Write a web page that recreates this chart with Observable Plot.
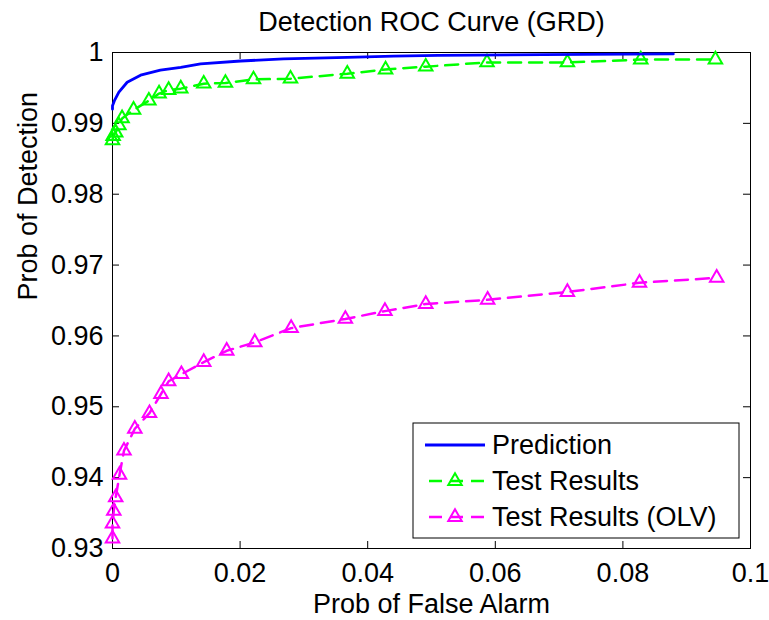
<!DOCTYPE html>
<html><head><meta charset="utf-8">
<script src="https://cdn.jsdelivr.net/npm/d3@7"></script>
<script src="https://cdn.jsdelivr.net/npm/@observablehq/plot@0.6"></script>
<style>
body{margin:0;background:#fff}
svg{font-family:"Liberation Sans",Arial,Helvetica,sans-serif}
</style>
</head><body><div id="chart"></div>
<script>
// Prediction curve (false alarm, detection)
const predFA = [0.0000, 0.0000, 0.0003, 0.0010, 0.0023, 0.0044, 0.0075, 0.0107, 0.0138, 0.0201, 0.0268, 0.0368, 0.0441, 0.0510, 0.0675, 0.0879];
const predPD = [0.9920, 0.9925, 0.9932, 0.9944, 0.9958, 0.9968, 0.9975, 0.9979, 0.9984, 0.9988, 0.9991, 0.9993, 0.9995, 0.9996, 0.9997, 0.9998];

// Test Results
const testFA = [0.0000, 0.0001, 0.0005, 0.0010, 0.0015, 0.0033, 0.0057, 0.0073, 0.0088, 0.0107, 0.0143, 0.0177, 0.0221, 0.0279, 0.0368, 0.0428, 0.0491, 0.0587, 0.0713, 0.0828, 0.0945];
const testPD = [0.9876, 0.9882, 0.9887, 0.9897, 0.9907, 0.9919, 0.9932, 0.9942, 0.9947, 0.9949, 0.9956, 0.9957, 0.9962, 0.9963, 0.9970, 0.9976, 0.9980, 0.9986, 0.9986, 0.9990, 0.9990];

// Test Results (OLV)
const olvFA = [0.0000, 0.0000, 0.0002, 0.0005, 0.0011, 0.0018, 0.0035, 0.0058, 0.0076, 0.0088, 0.0108, 0.0143, 0.0179, 0.0223, 0.0280, 0.0365, 0.0427, 0.0491, 0.0588, 0.0713, 0.0826, 0.0947];
const olvPD = [0.9314, 0.9335, 0.9353, 0.9372, 0.9404, 0.9438, 0.9469, 0.9491, 0.9518, 0.9536, 0.9546, 0.9563, 0.9579, 0.9591, 0.9611, 0.9624, 0.9635, 0.9645, 0.9651, 0.9662, 0.9675, 0.9682];

const xTicks = [0, 0.02, 0.04, 0.06, 0.08, 0.1];
const yTicks = [0.93, 0.94, 0.95, 0.96, 0.97, 0.98, 0.99, 1];
const seriesNames = ["Prediction", "Test Results", "Test Results (OLV)"];
const seriesColors = ["#0000ff", "#00ff00", "#ff00ff"];
const titleText = "Detection ROC Curve (GRD)";
const xLabel = "Prob of False Alarm";
const yLabel = "Prob of Detection";

const pred = predFA.map((x, i) => ({x, y: predPD[i]}));
const test = testFA.map((x, i) => ({x, y: testPD[i]}));
const olv = olvFA.map((x, i) => ({x, y: olvPD[i]}));

const W = 769, H = 620, mL = 112, mR = 19, mT = 52, mB = 72;
const frameW = W - mL - mR, frameH = H - mT - mB, tickLen = 7;
const dash = "13,8";
const fmt = d => String(d);

const chart = Plot.plot({
  width: W, height: H,
  marginLeft: mL, marginRight: mR, marginTop: mT, marginBottom: mB,
  style: {fontSize: "27px", fontFamily: '"Liberation Sans",Arial,sans-serif', background: "white", color: "black", overflow: "visible"},
  x: {domain: [0, 0.1], axis: null},
  y: {domain: [0.93, 1], axis: null},
  marks: [
    Plot.frame({stroke: "black", strokeWidth: 1}),
    // inward ticks on all four sides (MATLAB box style)
    Plot.tickX(xTicks, {x: d => d, insetTop: frameH - tickLen, stroke: "black", strokeWidth: 1}),
    Plot.tickX(xTicks, {x: d => d, insetBottom: frameH - tickLen, stroke: "black", strokeWidth: 1}),
    Plot.tickY(yTicks, {y: d => d, insetRight: frameW - tickLen, stroke: "black", strokeWidth: 1}),
    Plot.tickY(yTicks, {y: d => d, insetLeft: frameW - tickLen, stroke: "black", strokeWidth: 1}),
    Plot.axisX({ticks: xTicks, anchor: "bottom", label: null, tickSize: 0, tickPadding: 14, tickFormat: fmt, fontSize: 27, fill: "black"}),
    Plot.axisY({ticks: yTicks, anchor: "left", label: null, tickSize: 0, tickPadding: 9, tickFormat: fmt, fontSize: 27, fill: "black"}),
    Plot.line(olv, {x: "x", y: "y", stroke: seriesColors[2], strokeWidth: 2.5, strokeDasharray: dash}),
    Plot.dot(olv, {x: "x", y: "y", symbol: "triangle", r: 5, stroke: seriesColors[2], strokeWidth: 2, fill: "none"}),
    Plot.line(test, {x: "x", y: "y", stroke: seriesColors[1], strokeWidth: 2.5, strokeDasharray: dash}),
    Plot.dot(test, {x: "x", y: "y", symbol: "triangle", r: 5, stroke: seriesColors[1], strokeWidth: 2, fill: "none"}),
    Plot.line(pred, {x: "x", y: "y", stroke: seriesColors[0], strokeWidth: 2.8}),
    Plot.text([titleText], {frameAnchor: "top", dy: -22, lineAnchor: "bottom", fontSize: 27, fill: "black"}),
    Plot.text([xLabel], {frameAnchor: "bottom", dy: 64, lineAnchor: "bottom", fontSize: 27, fill: "black"}),
    Plot.text([yLabel], {frameAnchor: "left", dx: -84, rotate: -90, lineAnchor: "middle", fontSize: 27, fill: "black"})
  ]
});

document.getElementById("chart").appendChild(chart);

// Legend (MATLAB-style box in lower right)
const svg = d3.select(chart);
const lg = svg.append("g").attr("class", "legend").attr("text-anchor", "start");
const bx = 413, by = 423, bw = 326, bh = 115;
lg.append("rect").attr("x", bx).attr("y", by).attr("width", bw).attr("height", bh)
  .attr("fill", "white").attr("stroke", "black").attr("stroke-width", 1);
const rowY = [445, 481, 517];
const triangle = d3.symbol(d3.symbolTriangle, Math.PI * 25)();
seriesNames.forEach((name, i) => {
  const y = rowY[i];
  const g = lg.append("g");
  g.append("line").attr("x1", 425).attr("x2", 485).attr("y1", y).attr("y2", y)
    .attr("stroke", seriesColors[i]).attr("stroke-width", i === 0 ? 2.8 : 2.5)
    .attr("stroke-dasharray", i === 0 ? null : "13,8").attr("stroke-dashoffset", i === 0 ? null : -4);
  if (i > 0) {
    g.append("path").attr("d", triangle).attr("transform", `translate(455,${y})`)
      .attr("fill", "none").attr("stroke", seriesColors[i]).attr("stroke-width", 2);
  }
  g.append("text").attr("x", 492).attr("y", y).attr("dy", "0.35em").attr("text-anchor", "start")
    .attr("font-size", 27).attr("fill", "black").text(name);
});
</script>
</body></html>
